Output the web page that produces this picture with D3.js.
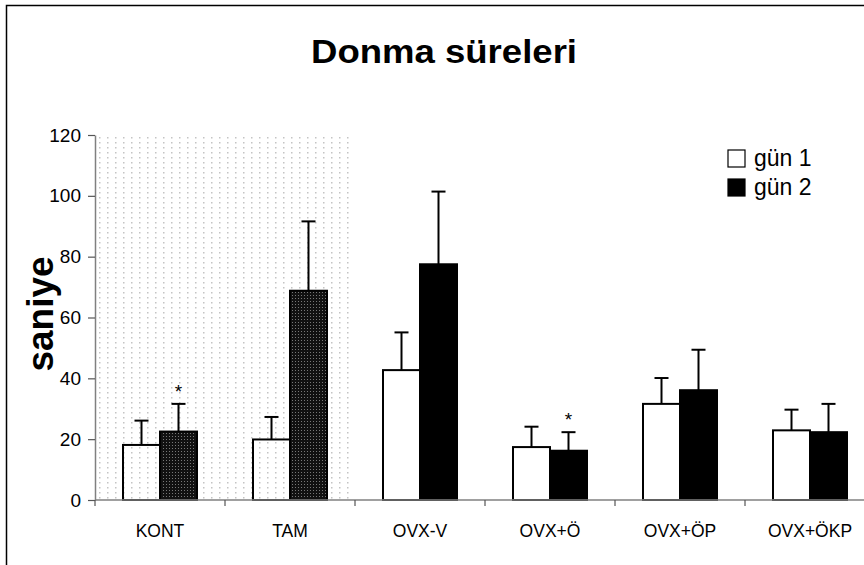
<!DOCTYPE html>
<html><head><meta charset="utf-8">
<script src="https://cdn.jsdelivr.net/npm/d3@7"></script>
<style>body{margin:0;background:#fff}svg{display:block}</style>
</head><body>
<script>
const categories = ["KONT","TAM","OVX-V","OVX+Ö","OVX+ÖP","OVX+ÖKP"];
const series = ["gün 1","gün 2"];
const gun1 = [18.1, 19.9, 42.7, 17.4, 31.6, 22.9];
const gun2 = [22.5, 68.8, 77.5, 16.2, 36.1, 22.3];
const gun1Err = [26.1, 27.3, 55.1, 24.1, 40.1, 29.7];
const gun2Err = [31.6, 91.6, 101.4, 22.3, 49.4, 31.6];
const yTicks = [0,20,40,60,80,100,120];
const shadedCats = ["KONT","TAM"];
const starred = [{cat:"KONT", s:"gün 2"}, {cat:"OVX+Ö", s:"gün 2"}];

const W=864,H=565;
const FONT="Liberation Sans, Arial, sans-serif";
const svg=d3.select("body").append("svg").attr("width",W).attr("height",H);
const defs=svg.append("defs");
const dots=defs.append("pattern").attr("id","dots").attr("patternUnits","userSpaceOnUse").attr("width",8).attr("height",5);
dots.append("rect").attr("width",8).attr("height",5).attr("fill","#fff");
dots.append("rect").attr("x",3).attr("y",2).attr("width",1.5).attr("height",1.5).attr("fill","#c4c4c4");
const dark=defs.append("pattern").attr("id","darkp").attr("patternUnits","userSpaceOnUse").attr("width",3).attr("height",3);
dark.append("rect").attr("width",3).attr("height",3).attr("fill","#111");
dark.append("rect").attr("x",1).attr("y",1).attr("width",1).attr("height",1).attr("fill","#777");

// outer frame
svg.append("rect").attr("x",6.5).attr("y",5.5).attr("width",1000).attr("height",1000).attr("fill","none").attr("stroke","#000").attr("stroke-width",1.5);

const x=d3.scaleBand().domain(categories).range([95,875]).paddingInner(0.4308).paddingOuter(0.2154);
const xs=d3.scaleBand().domain(series).range([0,x.bandwidth()]);
const y=d3.scaleLinear().domain([0,120]).range([500,135]);
const step=x.step(), half=x.paddingInner()*step/2;

// shaded background
const sx0=x(shadedCats[0])-half, sx1=x(shadedCats[shadedCats.length-1])+x.bandwidth()+half;
svg.append("rect").attr("x",sx0).attr("y",y(120)).attr("width",sx1-sx0).attr("height",y(0)-y(120)).attr("fill","url(#dots)");

const data=categories.map((c,i)=>({c, vals:[{s:"gün 1",v:gun1[i],e:gun1Err[i]},{s:"gün 2",v:gun2[i],e:gun2Err[i]}]}));
const g=svg.append("g");
data.forEach(d=>{
  const shaded=shadedCats.includes(d.c);
  d.vals.forEach(b=>{
    const bx=x(d.c)+xs(b.s), bw=xs.bandwidth(), cx=bx+bw/2;
    g.append("line").attr("x1",cx).attr("x2",cx).attr("y1",y(b.v)).attr("y2",y(b.e)).attr("stroke","#000").attr("stroke-width",2);
    g.append("line").attr("x1",cx-7).attr("x2",cx+7).attr("y1",y(b.e)).attr("y2",y(b.e)).attr("stroke","#000").attr("stroke-width",2);
    g.append("rect").attr("x",bx).attr("y",y(b.v)).attr("width",bw).attr("height",y(0)-y(b.v))
      .attr("fill", b.s==="gün 1" ? "none" : (shaded ? "url(#darkp)" : "#000"))
      .attr("stroke","#000").attr("stroke-width",2);
  });
});
// asterisks
starred.forEach(st=>{
  const i=categories.indexOf(st.cat);
  const e = st.s==="gün 1"?gun1Err[i]:gun2Err[i];
  svg.append("text").attr("x",x(st.cat)+xs(st.s)+xs.bandwidth()/2).attr("y",y(e)-6)
    .attr("text-anchor","middle").attr("font-family",FONT).attr("font-size",19).text("*");
});

// axes
const ya=svg.append("g").attr("transform","translate(95,0)").call(d3.axisLeft(y).tickValues(yTicks).tickSize(7).tickSizeOuter(0).tickPadding(7));
ya.select(".domain").attr("stroke","#808080").attr("stroke-width",1.5);
ya.selectAll(".tick line").attr("stroke","#555").attr("stroke-width",1.2);
ya.selectAll(".tick text").attr("font-family",FONT).attr("font-size",19).attr("fill","#000");

svg.append("line").attr("x1",95).attr("x2",W).attr("y1",y(0)).attr("y2",y(0)).attr("stroke","#808080").attr("stroke-width",1.5);
const bounds=categories.map(c=>x(c)-half);
svg.selectAll(".xt").data(bounds).join("line").attr("x1",d=>d).attr("x2",d=>d).attr("y1",y(0)).attr("y2",y(0)+6).attr("stroke","#555").attr("stroke-width",1.2);
svg.selectAll(".xl").data(categories).join("text").attr("x",d=>x(d)+x.bandwidth()/2).attr("y",537)
  .attr("text-anchor","middle").attr("font-family",FONT).attr("font-size",17.5).text(d=>d);

// title
svg.append("text").attr("x",444).attr("y",63).attr("text-anchor","middle").attr("font-family",FONT)
  .attr("font-weight","bold").attr("font-size",33).attr("textLength",266).attr("lengthAdjust","spacingAndGlyphs").text("Donma süreleri");
// y label
svg.append("text").attr("transform","translate(53,314) rotate(-90)").attr("text-anchor","middle").attr("font-family",FONT)
  .attr("font-weight","bold").attr("font-size",36).attr("textLength",115).attr("lengthAdjust","spacingAndGlyphs").text("saniye");

// legend
const leg=svg.append("g");
series.forEach((s,i)=>{
  const ly=158+i*29;
  leg.append("rect").attr("x",728).attr("y",ly-8).attr("width",17).attr("height",17)
    .attr("fill", i===0?"#fff":"#000").attr("stroke","#000").attr("stroke-width",1.2);
  leg.append("text").attr("x",754).attr("y",ly+8).attr("font-family",FONT).attr("font-size",23).text(s);
});
</script>
</body></html>
